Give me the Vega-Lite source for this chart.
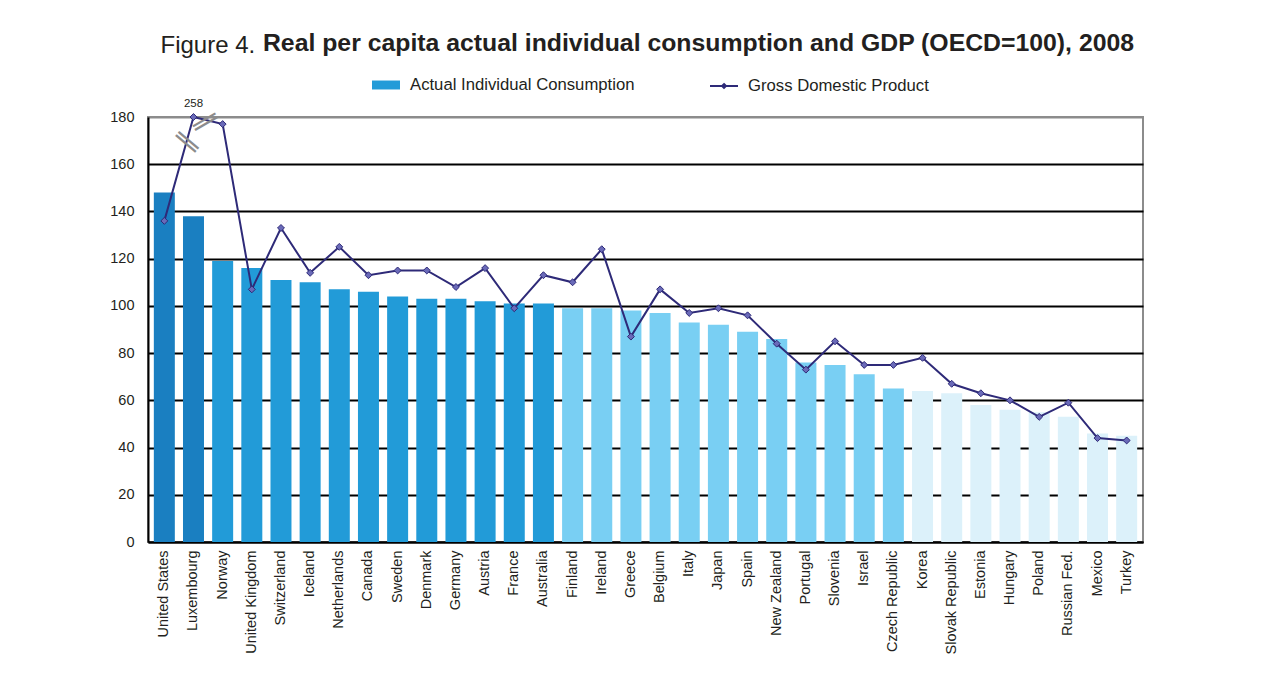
{
  "$schema": "https://vega.github.io/schema/vega-lite/v6.json",
  "width": 995,
  "height": 425,
  "autosize": {"type": "none"},
  "padding": {"left": 148, "top": 117, "right": 133, "bottom": 133},
  "background": "white",
  "title": {
    "text": "Real per capita actual individual consumption and GDP (OECD=100), 2008",
    "font": "Liberation Sans",
    "fontSize": 24.8,
    "fontWeight": "bold",
    "color": "#231f20",
    "anchor": "middle",
    "baseline": "alphabetic",
    "dx": 53,
    "dy": 47
  },
  "config": {
    "font": "Liberation Sans",
    "view": {"stroke": "#8c8c8c", "strokeWidth": 2}
  },
  "data": {
    "values": [
      {"country": "United States", "aic": 148, "gdp": 136, "tier": "1"},
      {"country": "Luxembourg", "aic": 138, "gdp": 258, "tier": "1"},
      {"country": "Norway", "aic": 119, "gdp": 177, "tier": "2"},
      {"country": "United Kingdom", "aic": 116, "gdp": 107, "tier": "2"},
      {"country": "Switzerland", "aic": 111, "gdp": 133, "tier": "2"},
      {"country": "Iceland", "aic": 110, "gdp": 114, "tier": "2"},
      {"country": "Netherlands", "aic": 107, "gdp": 125, "tier": "2"},
      {"country": "Canada", "aic": 106, "gdp": 113, "tier": "2"},
      {"country": "Sweden", "aic": 104, "gdp": 115, "tier": "2"},
      {"country": "Denmark", "aic": 103, "gdp": 115, "tier": "2"},
      {"country": "Germany", "aic": 103, "gdp": 108, "tier": "2"},
      {"country": "Austria", "aic": 102, "gdp": 116, "tier": "2"},
      {"country": "France", "aic": 101, "gdp": 99, "tier": "2"},
      {"country": "Australia", "aic": 101, "gdp": 113, "tier": "2"},
      {"country": "Finland", "aic": 99, "gdp": 110, "tier": "3"},
      {"country": "Ireland", "aic": 99, "gdp": 124, "tier": "3"},
      {"country": "Greece", "aic": 98, "gdp": 87, "tier": "3"},
      {"country": "Belgium", "aic": 97, "gdp": 107, "tier": "3"},
      {"country": "Italy", "aic": 93, "gdp": 97, "tier": "3"},
      {"country": "Japan", "aic": 92, "gdp": 99, "tier": "3"},
      {"country": "Spain", "aic": 89, "gdp": 96, "tier": "3"},
      {"country": "New Zealand", "aic": 86, "gdp": 84, "tier": "3"},
      {"country": "Portugal", "aic": 76, "gdp": 73, "tier": "3"},
      {"country": "Slovenia", "aic": 75, "gdp": 85, "tier": "3"},
      {"country": "Israel", "aic": 71, "gdp": 75, "tier": "3"},
      {"country": "Czech Republic", "aic": 65, "gdp": 75, "tier": "3"},
      {"country": "Korea", "aic": 64, "gdp": 78, "tier": "4"},
      {"country": "Slovak Republic", "aic": 63, "gdp": 67, "tier": "4"},
      {"country": "Estonia", "aic": 58, "gdp": 63, "tier": "4"},
      {"country": "Hungary", "aic": 56, "gdp": 60, "tier": "4"},
      {"country": "Poland", "aic": 55, "gdp": 53, "tier": "4"},
      {"country": "Russian Fed.", "aic": 53, "gdp": 59, "tier": "4"},
      {"country": "Mexico", "aic": 46, "gdp": 44, "tier": "4"},
      {"country": "Turkey", "aic": 45, "gdp": 43, "tier": "4"}
    ]
  },
  "encoding": {
    "x": {
      "field": "country",
      "type": "nominal",
      "sort": null,
      "scale": {"paddingInner": 0.28, "paddingOuter": 0.2},
      "axis": {
        "title": null,
        "labelAngle": -90,
        "labelAlign": "right",
        "labelBaseline": "middle",
        "labelPadding": 8,
        "labelFontSize": 14.5,
        "labelColor": "#231f20",
        "labelFont": "Liberation Sans",
        "ticks": false,
        "domainColor": "#000000",
        "domainWidth": 2,
        "grid": false
      }
    }
  },
  "layer": [
    {
      "mark": {"type": "bar"},
      "encoding": {
        "y": {
          "field": "aic",
          "type": "quantitative",
          "scale": {"domain": [0, 180], "nice": false, "clamp": true},
          "axis": {
            "values": [0, 20, 40, 60, 80, 100, 120, 140, 160, 180],
            "labelFontSize": 14.5,
            "labelColor": "#231f20",
            "labelPadding": 14,
            "ticks": false,
            "domainColor": "#000000",
            "domainWidth": 2,
            "grid": true,
            "gridColor": {"condition": {"test": "datum.value === 180", "value": "#8c8c8c"}, "value": "#000000"},
            "gridWidth": 2,
            "gridOpacity": 1,
            "title": "Figure 4.",
            "titleAngle": 0,
            "titleX": 12,
            "titleY": -65,
            "titleAlign": "left",
            "titleBaseline": "alphabetic",
            "titleFontSize": 24,
            "titleFontWeight": "normal",
            "titleColor": "#231f20"
          }
        },
        "color": {
          "field": "tier",
          "type": "nominal",
          "scale": {"domain": ["1", "2", "3", "4"], "range": ["#1a7fc1", "#229bd8", "#79cff3", "#dcf1fa"]},
          "legend": {
            "values": ["2"],
            "labelExpr": "'Actual Individual Consumption'",
            "orient": "none",
            "legendX": 224,
            "legendY": -46,
            "title": null,
            "padding": 0,
            "symbolType": "M-1,-0.32H1V0.32H-1Z",
            "symbolSize": 784,
            "symbolStrokeWidth": 0,
            "labelFontSize": 16.7,
            "labelLimit": 400,
            "labelColor": "#231f20",
            "labelOffset": 10
          }
        }
      }
    },
    {
      "mark": {"type": "line", "strokeWidth": 2},
      "encoding": {
        "y": {"field": "gdp", "type": "quantitative"},
        "stroke": {
          "datum": "Gross Domestic Product",
          "type": "nominal",
          "scale": {"range": ["#2e2a78"]},
          "legend": {
            "orient": "none",
            "legendX": 561,
            "legendY": -46,
            "title": null,
            "padding": 0,
            "symbolType": "M-1,0H1M0,-0.14L0.14,0L0,0.14L-0.14,0Z",
            "symbolSize": 784,
            "symbolStrokeWidth": 2,
            "labelFontSize": 16.7,
            "labelLimit": 400,
            "labelColor": "#231f20",
            "labelOffset": 9,
            "encode": {"symbols": {"update": {"fill": {"value": "#2e2a78"}}}}
          }
        }
      }
    },
    {
      "mark": {"type": "point", "shape": "diamond", "filled": true, "size": 48, "fill": "#6a6ab8", "stroke": "#2e2a78", "strokeWidth": 1, "opacity": 1},
      "encoding": {
        "y": {"field": "gdp", "type": "quantitative"}
      }
    },
    {
      "transform": [{"filter": "datum.gdp > 180"}],
      "mark": {"type": "text", "dy": -13, "fontSize": 11.5, "color": "#231f20"},
      "encoding": {
        "y": {"field": "gdp", "type": "quantitative"},
        "text": {"field": "gdp", "type": "quantitative"}
      }
    },
    {
      "transform": [{"filter": "datum.gdp > 180"}],
      "mark": {"type": "text", "text": "‖", "font": "DejaVu Sans", "fontSize": 26, "angle": -50, "dx": -23, "dy": 10, "color": "#8c8c8c", "baseline": "middle", "align": "center"},
      "encoding": {
        "y": {"field": "gdp", "type": "quantitative"}
      }
    },
    {
      "transform": [{"filter": "datum.gdp > 180"}],
      "mark": {"type": "text", "text": "‖", "font": "DejaVu Sans", "fontSize": 26, "angle": 60, "dx": 10, "dy": -9, "color": "#8c8c8c", "baseline": "middle", "align": "center"},
      "encoding": {
        "y": {"field": "gdp", "type": "quantitative"}
      }
    }
  ],
  "resolve": {"scale": {"color": "independent"}}
}
